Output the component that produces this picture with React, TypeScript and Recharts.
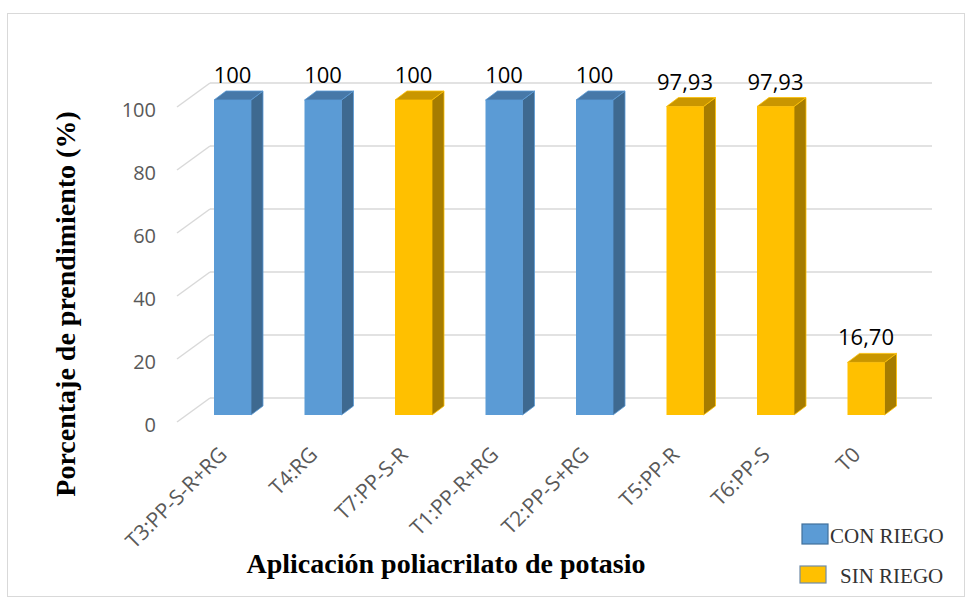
import React from "react";
import {
  BarChart,
  Bar,
  XAxis,
  YAxis,
  CartesianGrid,
  Cell,
  LabelList,
  Legend,
  Customized,
} from "recharts";

const categories = [
  "T3:PP-S-R+RG",
  "T4:RG",
  "T7:PP-S-R",
  "T1:PP-R+RG",
  "T2:PP-S+RG",
  "T5:PP-R",
  "T6:PP-S",
  "T0",
];
const values = [100, 100, 100, 100, 100, 97.93, 97.93, 16.7];
const groups = [
  "CON RIEGO",
  "CON RIEGO",
  "SIN RIEGO",
  "CON RIEGO",
  "CON RIEGO",
  "SIN RIEGO",
  "SIN RIEGO",
  "SIN RIEGO",
];
const yTicks = [0, 20, 40, 60, 80, 100];
const legendItems = ["CON RIEGO", "SIN RIEGO"];

const COLORS: Record<string, { front: string; side: string; top: string; edge: string }> = {
  "CON RIEGO": { front: "#5B9BD5", side: "#3E6990", top: "#4778A8", edge: "#41719C" },
  "SIN RIEGO": { front: "#FFC000", side: "#A67C00", top: "#C99600", edge: "#6F8BA8" },
};

const data = categories.map((name, i) => ({
  name,
  value: values[i],
  group: groups[i],
}));

const fmt = (v: number) =>
  Number.isInteger(v) ? String(v) : v.toFixed(2).replace(".", ",");

// 3D geometry
const DX = 12;
const DY = 9;
const LIFT = 7;
const WALL_X = 177;
const WALL_DX = 33;
const WALL_DY = 24;
const GRID = "#D9D9D9";
const TICK_FONT = "'Open Sans', 'Liberation Sans', sans-serif";
const SERIF = "'Liberation Serif', 'DejaVu Serif', serif";
const PLOT_TOP = 107;
const PLOT_H = 315;
const Y_MAX = yTicks[yTicks.length - 1];

const Bar3D = (props: any) => {
  const { x, y, width, height, payload } = props;
  const c = COLORS[payload.group];
  const top = y - LIFT;
  const bottom = y + height - LIFT;
  const right = x + width;
  return (
    <g>
      <rect x={x} y={top} width={width} height={height} fill={c.front} />
      <polygon
        points={`${right},${top} ${right + DX},${top - DY} ${right + DX},${bottom - DY} ${right},${bottom}`}
        fill={c.side}
        stroke={c.front}
        strokeWidth={0.8}
      />
      <polygon
        points={`${x},${top} ${x + DX},${top - DY} ${right + DX},${top - DY} ${right},${top}`}
        fill={c.top}
        stroke={c.front}
        strokeWidth={0.8}
      />
    </g>
  );
};

const YTick = ({ y, payload }: any) => (
  <g>
    <line
      x1={WALL_X}
      y1={y}
      x2={WALL_X + WALL_DX}
      y2={y - WALL_DY}
      stroke={GRID}
      strokeWidth={1.5}
    />
    <text
      x={156}
      y={y + 3}
      dy="0.36em"
      textAnchor="end"
      fill="#595959"
      fontSize={20}
      fontFamily={TICK_FONT}
    >
      {payload.value}
    </text>
  </g>
);

const XTick = ({ x, payload }: any) => (
  <text
    x={x - 4}
    y={456}
    textAnchor="end"
    fill="#595959"
    fontSize={21}
    fontFamily={TICK_FONT}
    transform={`rotate(-45 ${x - 4} 456)`}
  >
    {payload.value}
  </text>
);

const ValueLabel = (p: any) => (
  <text
    x={p.x + p.width / 2}
    y={p.y - 24}
    textAnchor="middle"
    fill="#000"
    fontSize={22}
    fontFamily={TICK_FONT}
  >
    {fmt(p.value)}
  </text>
);

const Titles = () => (
  <g fontFamily={SERIF} fontWeight="bold" fontSize={28} fill="#000">
    <text x={75} y={304} textAnchor="middle" transform="rotate(-90 75 304)">
      Porcentaje de prendimiento (%)
    </text>
    <text x={446} y={573} textAnchor="middle">
      Aplicación poliacrilato de potasio
    </text>
  </g>
);

const LegendBox = () => (
  <svg width={170} height={75}>
    {legendItems.map((name, i) => {
      const c = COLORS[name];
      const sy = i === 0 ? 4 : 46;
      const sh = i === 0 ? 20 : 17;
      return (
        <g key={name}>
          <rect
            x={i === 0 ? 4 : 2}
            y={sy}
            width={26}
            height={sh}
            fill={c.front}
            stroke={c.edge}
            strokeWidth={1.2}
          />
          <text
            x={i === 0 ? 32 : 42}
            y={i === 0 ? 23 : 63}
            style={{ fontFamily: SERIF, fontSize: 21 }}
            fill="#333"
          >
            {name}
          </text>
        </g>
      );
    })}
  </svg>
);

// back-wall gridlines: the tick positions pushed up by the wall depth
const backGrid = ({ offset }: any) => {
  const top = offset && typeof offset.top === "number" ? offset.top : PLOT_TOP;
  const h = offset && typeof offset.height === "number" ? offset.height : PLOT_H;
  return yTicks.map((t) => top + h * (1 - t / Y_MAX) - WALL_DY);
};

export default function App() {
  return (
    <div style={{ position: "relative", width: 974, height: 600, background: "#fff" }}>
      <style>{"body{margin:0}"}</style>
      <div
        style={{
          position: "absolute",
          left: 7,
          top: 13,
          width: 958,
          height: 584,
          border: `1.5px solid ${GRID}`,
          boxSizing: "border-box",
        }}
      />
      <div style={{ position: "absolute", left: 0, top: 0 }}>
        <BarChart
          width={974}
          height={600}
          data={data}
          margin={{ top: PLOT_TOP, right: 63, bottom: 78, left: 107 }}
        >
          <CartesianGrid
            vertical={false}
            stroke={GRID}
            strokeWidth={1.5}
            x={WALL_X + WALL_DX}
            width={722}
            horizontalCoordinatesGenerator={backGrid}
          />
          <XAxis
            dataKey="name"
            axisLine={false}
            tickLine={false}
            height={100}
            interval={0}
            tick={<XTick />}
          />
          <YAxis
            domain={[0, Y_MAX]}
            ticks={yTicks}
            axisLine={false}
            tickLine={false}
            width={80}
            tick={<YTick />}
          />
          <Bar dataKey="value" barSize={37} shape={<Bar3D />} isAnimationActive={false}>
            {data.map((d, i) => (
              <Cell key={`cell-${i}`} fill={COLORS[d.group].front} />
            ))}
            <LabelList dataKey="value" content={<ValueLabel />} />
          </Bar>
          <Customized component={<Titles />} />
          <Legend
            layout="horizontal"
            verticalAlign="middle"
            align="center"
            wrapperStyle={{ position: "absolute", left: 798, top: 520, width: 170, height: 75 }}
            content={<LegendBox />}
          />
        </BarChart>
      </div>
    </div>
  );
}
